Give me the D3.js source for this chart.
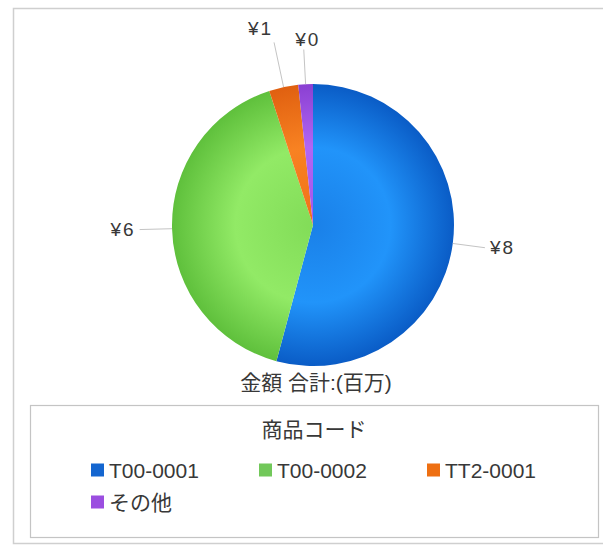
<!DOCTYPE html>
<html>
<head>
<meta charset="utf-8">
<script src="https://cdn.jsdelivr.net/npm/d3@7"></script>
<style>
  body { margin: 0; background: #fff; }
  text { font-family: "Liberation Sans", "Noto Sans CJK JP", sans-serif; fill: #383838; }
</style>
</head>
<body>
<div id="chart"></div>
<script>
// Data (millions of yen)
var categories = ["T00-0001", "T00-0002", "TT2-0001", "その他"];
var values = [8.1, 6.1, 0.5, 0.25];
var colors = ["#1466d0", "#72c85a", "#ee6f12", "#9b4ee0"];
// gradient stops: inner, middle, edge
var shades = [
  ["#1a80e8", "#2194fa", "#0a5cc6"],
  ["#82dc58", "#92ea66", "#5fc03c"],
  ["#f07018", "#f88222", "#e06010"],
  ["#a254ea", "#b266f4", "#8a40d2"]
];
var chartTitle = "金額 合計:(百万)";
var legendTitle = "商品コード";

var svgWidth = 603;
var svgHeight = 545;
var cx = 313, cy = 225, radius = 141;

var svg = d3.select("#chart")
  .append("svg")
  .attr("width", svgWidth)
  .attr("height", svgHeight);

// outer frame
svg.append("path")
  .attr("d", "M603,8.5 H13.5 V543.5 H603")
  .attr("fill", "none")
  .attr("stroke", "#cfcfcf")
  .attr("stroke-width", 1.5);

// radial shading, centred on the pie
var defs = svg.append("defs");
shades.forEach(function(s, i) {
  var g = defs.append("radialGradient")
    .attr("id", "grad" + i)
    .attr("gradientUnits", "userSpaceOnUse")
    .attr("cx", 0).attr("cy", 0).attr("r", radius);
  g.append("stop").attr("offset", "0%").attr("stop-color", s[0]);
  g.append("stop").attr("offset", "55%").attr("stop-color", s[1]);
  g.append("stop").attr("offset", "100%").attr("stop-color", s[2]);
});

var pie = d3.pie().sort(null).value(d => d);
var arcs = pie(values);
var arc = d3.arc().innerRadius(0).outerRadius(radius);

var pieGroup = svg.append("g")
  .attr("transform", `translate(${cx}, ${cy})`);

pieGroup.selectAll("path.slice")
  .data(arcs)
  .enter()
  .append("path")
  .attr("class", "slice")
  .attr("d", arc)
  .attr("fill", (d, i) => "url(#grad" + i + ")");

// labels with leader lines
function midAngle(d) { return (d.startAngle + d.endAngle) / 2; }
var fmt = v => "¥" + Math.round(v);

arcs.forEach(function(d) {
  var a = midAngle(d);
  var sx = Math.sin(a), sy = -Math.cos(a);
  var side = Math.abs(sx) > 0.5;
  var k = side ? 1.23 : 1.22 + 0.5 * Math.abs(sx);
  var p0 = [sx * radius, sy * radius];
  var p1 = [sx * radius * k, sy * radius * k];
  pieGroup.append("line")
    .attr("x1", p0[0]).attr("y1", p0[1])
    .attr("x2", p1[0]).attr("y2", p1[1])
    .attr("stroke", "#c4c4c4")
    .attr("stroke-width", 1);
  var t = pieGroup.append("text")
    .style("font-size", "19px")
    .style("letter-spacing", "2px")
    .text(fmt(d.data));
  if (sx > 0.5) {
    t.attr("x", p1[0] + 5).attr("y", p1[1]).attr("dy", "0.35em").attr("text-anchor", "start");
  } else if (sx < -0.5) {
    t.attr("x", p1[0] - 4).attr("y", p1[1]).attr("dy", "0.35em").attr("text-anchor", "end");
  } else if (sx < -0.1) {
    t.attr("x", p1[0] - 1).attr("y", p1[1] - 7).attr("text-anchor", "end");
  } else {
    t.attr("x", p1[0] + 4).attr("y", p1[1] - 4).attr("text-anchor", "middle");
  }
});

// chart title under the pie
svg.append("text")
  .attr("x", 316)
  .attr("y", 390)
  .attr("text-anchor", "middle")
  .style("font-size", "21px")
  .text(chartTitle);

// legend
svg.append("rect")
  .attr("x", 30.5).attr("y", 405.5)
  .attr("width", 568).attr("height", 132)
  .attr("fill", "none")
  .attr("stroke", "#c4c4c4")
  .attr("stroke-width", 1.2);

svg.append("text")
  .attr("x", 314)
  .attr("y", 437)
  .attr("text-anchor", "middle")
  .style("font-size", "21px")
  .text(legendTitle);

var legendCols = 3;
var legendItem = svg.selectAll("g.legend-item")
  .data(categories)
  .enter()
  .append("g")
  .attr("class", "legend-item")
  .attr("transform", (d, i) =>
    `translate(${91 + (i % legendCols) * 168}, ${470 + Math.floor(i / legendCols) * 32})`);

legendItem.append("rect")
  .attr("x", 0).attr("y", -6.5)
  .attr("width", 13).attr("height", 13)
  .attr("fill", (d, i) => colors[i]);

legendItem.append("text")
  .attr("x", 18)
  .attr("y", 0)
  .attr("dy", "0.36em")
  .style("font-size", "21px")
  .text(d => d);
</script>
</body>
</html>
